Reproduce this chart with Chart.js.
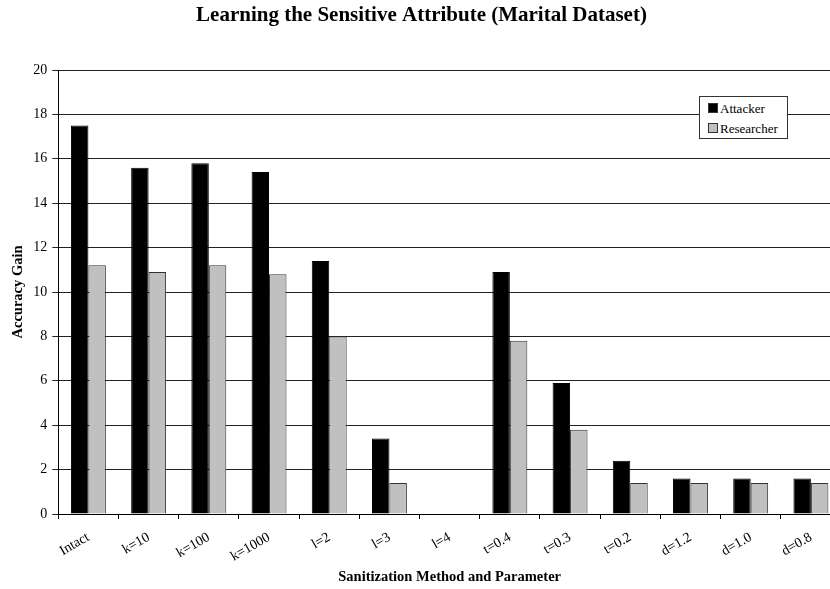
<!DOCTYPE html>
<html>
<head>
<meta charset="utf-8">
<script src="https://cdn.jsdelivr.net/npm/chart.js@4.4.1/dist/chart.umd.min.js"></script>
<style>
  html, body { margin: 0; padding: 0; background: #fff; overflow: hidden; }
  #wrap { position: relative; width: 902px; height: 589px; }
  #legend {
    position: absolute; left: 699px; top: 96px; width: 87px; height: 41px;
    border: 1px solid #333; background: #fff;
    font-family: "Liberation Serif", serif; font-size: 13px; color: #000;
  }
  #legend div { position: absolute; left: 8px; height: 16px; line-height: 16px; white-space: nowrap; }
  #legend span {
    display: inline-block; width: 8px; height: 8px; border: 1px solid #333;
    margin-right: 2px; vertical-align: 0px;
  }
</style>
</head>
<body>
<div id="wrap">
  <canvas id="chart" width="902" height="589"></canvas>
  <div id="legend">
    <div style="top:4px"><span style="background:#000"></span>Attacker</div>
    <div style="top:24px"><span style="background:#c0c0c0"></span>Researcher</div>
  </div>
</div>
<script>
// values
const categories = ["Intact", "k=10", "k=100", "k=1000", "l=2", "l=3", "l=4",
                    "t=0.4", "t=0.3", "t=0.2", "d=1.2", "d=1.0", "d=0.8"];
const attacker   = [17.5, 15.6, 15.8, 15.4, 11.4, 3.4, 0, 10.9, 5.9, 2.4, 1.6, 1.6, 1.6];
const researcher = [11.2, 10.9, 11.2, 10.8, 8.0, 1.4, 0, 7.8, 3.8, 1.4, 1.4, 1.4, 1.4];

const serif = "'Liberation Serif', 'DejaVu Serif', serif";

new Chart(document.getElementById("chart"), {
  type: "bar",
  data: {
    labels: categories,
    datasets: [
      { label: "Attacker", data: attacker, backgroundColor: "#000", borderColor: "#000",
        borderWidth: 1, barPercentage: 1, categoryPercentage: 0.58 },
      { label: "Researcher", data: researcher, backgroundColor: "#c0c0c0", borderColor: "#333",
        borderWidth: 1, barPercentage: 1, categoryPercentage: 0.58 }
    ]
  },
  options: {
    responsive: false,
    animation: false,
    // the plot runs past the 830px window on the right, as in the reference
    layout: { padding: { left: 2, right: 61, top: 0, bottom: 0 } },
    plugins: {
      legend: { display: false },
      tooltip: { enabled: false },
      title: {
        display: true,
        text: "Learning the Sensitive Attribute (Marital Dataset)",
        color: "#000",
        font: { family: serif, size: 21, weight: "bold" },
        padding: { top: 3, bottom: 41.8 }
      }
    },
    scales: {
      x: {
        grid: { display: true, drawOnChartArea: false, drawTicks: true, tickLength: 5,
                color: "#000", offset: true },
        border: { color: "#000", width: 1 },
        ticks: { color: "#000", font: { family: serif, size: 14 }, minRotation: 30,
                 maxRotation: 30, padding: 10 },
        title: { display: true, text: "Sanitization Method and Parameter", color: "#000",
                 font: { family: serif, size: 14.5, weight: "bold" }, padding: { top: -6.4, bottom: 3 } }
      },
      y: {
        min: 0, max: 20,
        grid: { color: "#222", lineWidth: 1, tickLength: 6 },
        border: { color: "#000", width: 1 },
        ticks: { stepSize: 2, color: "#000", font: { family: serif, size: 14 }, padding: 5 },
        title: { display: true, text: "Accuracy Gain", color: "#000",
                 font: { family: serif, size: 14.5, weight: "bold" }, padding: { top: 7.3, bottom: 1.6 } }
      }
    }
  }
});
</script>
</body>
</html>
